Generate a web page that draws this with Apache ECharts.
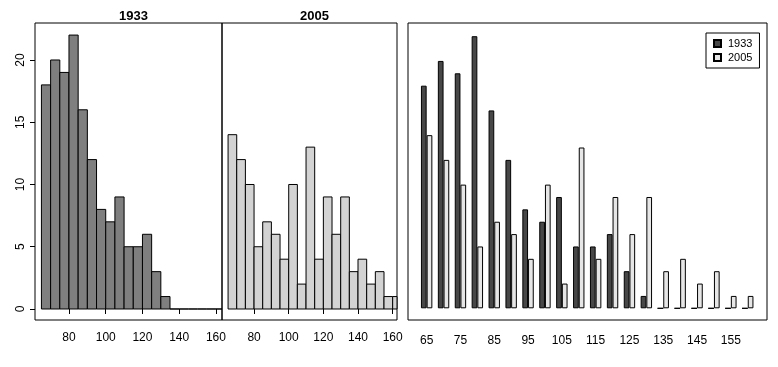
<!DOCTYPE html>
<html>
<head>
<meta charset="utf-8">
<script src="https://cdn.jsdelivr.net/npm/echarts@6/dist/echarts.min.js"></script>
<style>
html,body{margin:0;padding:0;background:#fff;}
#chart{width:778px;height:367px;}
</style>
</head>
<body>
<div id="chart"></div>
<script>
// ---- data ----
var binEdges = [65,70,75,80,85,90,95,100,105,110,115,120,125,130,135,140,145,150,155,160,165];
var categories = ['65','70','75','80','85','90','95','100','105','110','115','120','125','130','135','140','145','150','155','160'];
var counts1933 = [18,20,19,22,16,12,8,7,9,5,5,6,3,1,0,0,0,0,0,0];
var counts2005 = [14,12,10,5,7,6,4,10,2,13,4,9,6,9,3,4,2,3,1,1];
var histTicks = [80,100,120,140,160];
var freqTicks = [0,5,10,15,20];
var seriesNames = ['1933','2005'];

var FONT = "'Liberation Sans', Arial, sans-serif";

function histData(counts){
  var out = [];
  for (var i = 0; i < counts.length; i++) out.push([binEdges[i], binEdges[i+1], counts[i]]);
  return out;
}
function makeRender(fill){
  return function(params, api){
    var p0 = api.coord([api.value(0), 0]);
    var p1 = api.coord([api.value(1), api.value(2)]);
    var cs = params.coordSys;
    var x0 = Math.max(p0[0], cs.x), x1 = Math.min(p1[0], cs.x + cs.width);
    if (x1 <= x0) return null;
    return {
      type: 'rect',
      shape: {x: x0, y: p1[1], width: x1 - x0, height: p0[1] - p1[1]},
      style: {fill: fill, stroke: '#000', lineWidth: 1}
    };
  };
}

var chart = echarts.init(document.getElementById('chart'), null, {renderer: 'canvas'});
var boxStyle = {show: true, borderColor: '#000', borderWidth: 1, backgroundColor: 'transparent'};
var option = {
  animation: false,
  backgroundColor: '#fff',
  title: [
    {text: '1933', left: 128.5, top: 5, textAlign: 'center',
     textStyle: {fontFamily: FONT, fontSize: 13, fontWeight: 'bold', color: '#000'}},
    {text: '2005', left: 309.5, top: 5, textAlign: 'center',
     textStyle: {fontFamily: FONT, fontSize: 13, fontWeight: 'bold', color: '#000'}}
  ],
  legend: {
    data: seriesNames,
    orient: 'vertical',
    left: 706, top: 33,
    padding: [5, 7, 5, 7],
    itemGap: 3,
    itemWidth: 7, itemHeight: 7,
    icon: 'rect',
    borderColor: '#000', borderWidth: 1,
    textStyle: {fontFamily: FONT, fontSize: 11, color: '#000', lineHeight: 11, padding: [0,0,0,2]}
  },
  grid: [
    Object.assign({left: 35, top: 23, width: 187, height: 297}, boxStyle),
    Object.assign({left: 222, top: 23, width: 175, height: 297}, boxStyle),
    Object.assign({left: 408, top: 23, width: 359, height: 297}, boxStyle),
    {left: 418.2, top: 36.2, width: 338, height: 272.1, show: false}
  ],
  xAxis: [
    {gridIndex: 0, type: 'value', min: 61.5, max: 163.3,
     splitLine: {show: false}, axisLine: {show: false},
     axisTick: {show: true, length: 5, lineStyle: {color: '#000'}, customValues: histTicks},
     axisLabel: {customValues: histTicks, color: '#000', fontFamily: FONT, fontSize: 12, margin: 12}},
    {gridIndex: 1, type: 'value', min: 61.5, max: 162.5,
     splitLine: {show: false}, axisLine: {show: false},
     axisTick: {show: true, length: 5, lineStyle: {color: '#000'}, customValues: histTicks},
     axisLabel: {customValues: histTicks, color: '#000', fontFamily: FONT, fontSize: 12, margin: 12}},
    {gridIndex: 2, type: 'value', min: 0, max: 1, show: false},
    {gridIndex: 3, type: 'category', data: categories,
     axisLine: {show: false}, axisTick: {show: false}, splitLine: {show: false},
     axisLabel: {interval: 1, color: '#000', fontFamily: FONT, fontSize: 12, margin: 26}}
  ],
  yAxis: [
    {gridIndex: 0, type: 'value', min: -0.8835, max: 22.97,
     splitLine: {show: false}, axisLine: {show: false},
     axisTick: {show: true, length: 5, lineStyle: {color: '#000'}, customValues: freqTicks},
     axisLabel: {customValues: freqTicks, rotate: 90, color: '#000', fontFamily: FONT, fontSize: 12, margin: 8}},
    {gridIndex: 1, type: 'value', min: -0.8835, max: 22.97, show: false},
    {gridIndex: 2, type: 'value', min: 0, max: 1, show: false},
    {gridIndex: 3, type: 'value', min: 0, max: 22, show: false}
  ],
  series: [
    {type: 'custom', name: 'h1933', xAxisIndex: 0, yAxisIndex: 0, data: histData(counts1933),
     renderItem: makeRender('#7f7f7f'), encode: {x: [0,1], y: 2}, silent: true},
    {type: 'custom', name: 'h2005', xAxisIndex: 1, yAxisIndex: 1, data: histData(counts2005),
     renderItem: makeRender('#d3d3d3'), encode: {x: [0,1], y: 2}, silent: true},
    {type: 'bar', name: '1933', xAxisIndex: 3, yAxisIndex: 3, data: counts1933,
     barWidth: 5.7, barGap: '0%',
     itemStyle: {color: '#474747', borderColor: '#000', borderWidth: 1}},
    {type: 'bar', name: '2005', xAxisIndex: 3, yAxisIndex: 3, data: counts2005,
     barWidth: 5.7, barGap: '0%',
     itemStyle: {color: '#e6e6e6', borderColor: '#000', borderWidth: 1}}
  ]
};
chart.setOption(option);
</script>
</body>
</html>
